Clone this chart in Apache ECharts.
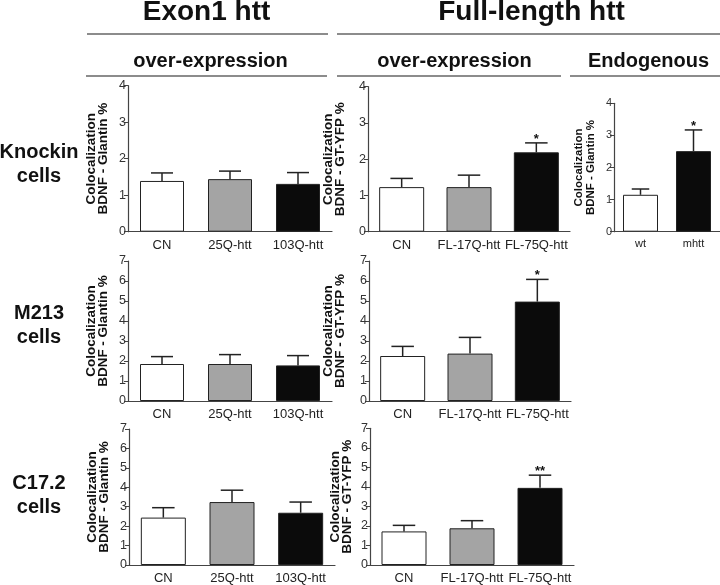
<!DOCTYPE html>
<html>
<head>
<meta charset="utf-8">
<script src="https://cdn.jsdelivr.net/npm/echarts@6/dist/echarts.min.js"></script>
<style>
html,body{margin:0;padding:0;background:#fff;}
#chart{width:720px;height:585px;}
</style>
</head>
<body>
<div id="chart"></div>
<script>
// ---- categories ----
const exonCats = ['CN', '25Q-htt', '103Q-htt'];
const flCats = ['CN', 'FL-17Q-htt', 'FL-75Q-htt'];
const endoCats = ['wt', 'mhtt'];

// ---- Knockin cells ----
const knockinExonMean = [1.39, 1.44, 1.31];
const knockinExonErr  = [0.22, 0.22, 0.31];
const knockinFLMean   = [1.23, 1.23, 2.19];
const knockinFLErr    = [0.24, 0.33, 0.26];
const knockinFLSig    = ['', '', '*'];
const knockinEndoMean = [1.15, 2.51];
const knockinEndoErr  = [0.18, 0.66];
const knockinEndoSig  = ['', '*'];

// ---- M213 cells ----
const m213ExonMean = [1.85, 1.85, 1.78];
const m213ExonErr  = [0.37, 0.47, 0.49];
const m213FLMean   = [2.25, 2.37, 4.97];
const m213FLErr    = [0.48, 0.81, 1.11];
const m213FLSig    = ['', '', '*'];

// ---- C17.2 cells ----
const c172ExonMean = [2.44, 3.24, 2.69];
const c172ExonErr  = [0.51, 0.61, 0.55];
const c172FLMean   = [1.72, 1.88, 3.95];
const c172FLErr    = [0.31, 0.39, 0.65];
const c172FLSig    = ['', '', '**'];

// ---- axis ranges / labels ----
const yMaxKnockin = 4;
const yMaxOther = 7;
const yTitleGlantin = 'Colocalization\nBDNF - Glantin %';
const yTitleGT = 'Colocalization\nBDNF - GT-YFP %';

const FONT = "'Liberation Sans', Arial, Helvetica, sans-serif";
const fill3 = ['#ffffff', '#a4a4a4', '#0b0b0b'];
const fill2 = ['#ffffff', '#0b0b0b'];

const panels = [
  {grid:{left:128, top:85.7, width:204, height:146}, cats:exonCats, mean:knockinExonMean, err:knockinExonErr, sig:null, max:yMaxKnockin, title:yTitleGlantin, gap:19, barW:44, fills:fill3, fs:13.5, xfs:13, tfs:12.5, lh:11.5},
  {grid:{left:368, top:86.7, width:202, height:145}, cats:flCats, mean:knockinFLMean, err:knockinFLErr, sig:knockinFLSig, max:yMaxKnockin, title:yTitleGT, gap:22, barW:45, fills:fill3, fs:13.5, xfs:13, tfs:12.5, lh:11.5},
  {grid:{left:614, top:103.3, width:106, height:128.4}, cats:endoCats, mean:knockinEndoMean, err:knockinEndoErr, sig:knockinEndoSig, max:yMaxKnockin, title:yTitleGlantin, gap:17, barW:35, fills:fill2, fs:11.5, xfs:11, tfs:11, lh:12},
  {grid:{left:128, top:261, width:204, height:140}, cats:exonCats, mean:m213ExonMean, err:m213ExonErr, sig:null, max:yMaxOther, title:yTitleGlantin, gap:19, barW:44, fills:fill3, fs:13.5, xfs:13, tfs:12.5, lh:11.5},
  {grid:{left:369, top:261, width:202, height:140}, cats:flCats, mean:m213FLMean, err:m213FLErr, sig:m213FLSig, max:yMaxOther, title:yTitleGT, gap:23, barW:45, fills:fill3, fs:13.5, xfs:13, tfs:12.5, lh:11.5},
  {grid:{left:129, top:429, width:206, height:139}, cats:exonCats, mean:c172ExonMean, err:c172ExonErr, sig:null, max:yMaxOther, title:yTitleGlantin, gap:19, barW:45, fills:fill3, fs:13.5, xfs:13, tfs:12.5, lh:11.5},
  {grid:{left:370, top:428.3, width:204, height:140}, cats:flCats, mean:c172FLMean, err:c172FLErr, sig:c172FLSig, max:yMaxOther, title:yTitleGT, gap:17, barW:45, fills:fill3, fs:13.5, xfs:13, tfs:12.5, lh:11.5}
];

function errRender(sig, barW) {
  return function (params, api) {
    const i = api.value(0), m = api.value(1), e = api.value(2);
    const p0 = api.coord([i, m]);
    const p1 = api.coord([i, m + e]);
    const hw = barW / 4;
    const children = [
      {type:'line', shape:{x1:p0[0], y1:p0[1], x2:p1[0], y2:p1[1]}, style:{stroke:'#222', lineWidth:1.5}},
      {type:'line', shape:{x1:p1[0]-hw, y1:p1[1], x2:p1[0]+hw, y2:p1[1]}, style:{stroke:'#222', lineWidth:1.5}}
    ];
    const s = sig ? sig[params.dataIndex] : '';
    if (s) {
      children.push({type:'text', style:{text:s, x:p1[0], y:p1[1]+3, align:'center', verticalAlign:'bottom', fontSize:13, fontWeight:'bold', fill:'#111', fontFamily:FONT}});
    }
    return {type:'group', children:children};
  };
}

const grid = [], xAxis = [], yAxis = [], series = [];
panels.forEach(function (p, k) {
  grid.push(Object.assign({containLabel:false}, p.grid));
  xAxis.push({
    type:'category', gridIndex:k, data:p.cats,
    axisLine:{show:true, lineStyle:{color:'#444', width:1.2}},
    axisTick:{show:false},
    axisLabel:{color:'#222', fontSize:p.xfs, fontFamily:FONT, margin:7, interval:0}
  });
  yAxis.push({
    type:'value', gridIndex:k, min:0, max:p.max, interval:1,
    name:p.title, nameLocation:'middle', nameGap:p.gap, nameRotate:90,
    nameTextStyle:{color:'#111', fontWeight:'bold', fontSize:p.fs, fontFamily:FONT, lineHeight:p.lh},
    axisLine:{show:true, lineStyle:{color:'#444', width:1.2}},
    axisTick:{show:true, length:4, lineStyle:{color:'#444'}},
    axisLabel:{color:'#333', fontSize:p.tfs, fontFamily:FONT, margin:2},
    splitLine:{show:false}
  });
  series.push({
    type:'bar', xAxisIndex:k, yAxisIndex:k, barWidth:p.barW, silent:true,
    data:p.mean.map(function (v, i) {
      return {value:v, itemStyle:{color:p.fills[i], borderColor:'#222', borderWidth:1}};
    })
  });
  series.push({
    type:'custom', xAxisIndex:k, yAxisIndex:k, z:5, silent:true,
    renderItem:errRender(p.sig, p.barW),
    data:p.mean.map(function (v, i) { return [i, v, p.err[i]]; })
  });
});

const lineStyle = {stroke:'#8c8c8c', lineWidth:2};
const graphic = [
  {type:'text', style:{text:'Exon1 htt', x:206.5, y:12.5, align:'center', verticalAlign:'middle', fontSize:28, fontWeight:'bold', fill:'#111', fontFamily:FONT}},
  {type:'text', style:{text:'Full-length htt', x:531.5, y:12.5, align:'center', verticalAlign:'middle', fontSize:28, fontWeight:'bold', fill:'#111', fontFamily:FONT}},
  {type:'line', shape:{x1:87, y1:34, x2:328, y2:34}, style:lineStyle},
  {type:'line', shape:{x1:337, y1:34, x2:720, y2:34}, style:lineStyle},
  {type:'text', style:{text:'over-expression', x:210.5, y:61, align:'center', verticalAlign:'middle', fontSize:20, fontWeight:'bold', fill:'#111', fontFamily:FONT}},
  {type:'text', style:{text:'over-expression', x:454.5, y:61, align:'center', verticalAlign:'middle', fontSize:20, fontWeight:'bold', fill:'#111', fontFamily:FONT}},
  {type:'text', style:{text:'Endogenous', x:648.5, y:61, align:'center', verticalAlign:'middle', fontSize:20, fontWeight:'bold', fill:'#111', fontFamily:FONT}},
  {type:'line', shape:{x1:86, y1:76, x2:327, y2:76}, style:lineStyle},
  {type:'line', shape:{x1:337, y1:76, x2:561, y2:76}, style:lineStyle},
  {type:'line', shape:{x1:570, y1:76, x2:720, y2:76}, style:lineStyle},
  {type:'text', style:{text:'Knockin\ncells', x:39, y:164, align:'center', verticalAlign:'middle', fontSize:20, lineHeight:24, fontWeight:'bold', fill:'#111', fontFamily:FONT}},
  {type:'text', style:{text:'M213\ncells', x:39, y:325, align:'center', verticalAlign:'middle', fontSize:20, lineHeight:24, fontWeight:'bold', fill:'#111', fontFamily:FONT}},
  {type:'text', style:{text:'C17.2\ncells', x:39, y:495, align:'center', verticalAlign:'middle', fontSize:20, lineHeight:24, fontWeight:'bold', fill:'#111', fontFamily:FONT}}
];

const chart = echarts.init(document.getElementById('chart'), null, {renderer:'canvas'});
chart.setOption({
  animation:false,
  backgroundColor:'#ffffff',
  grid:grid, xAxis:xAxis, yAxis:yAxis, series:series, graphic:graphic
});
</script>
</body>
</html>
